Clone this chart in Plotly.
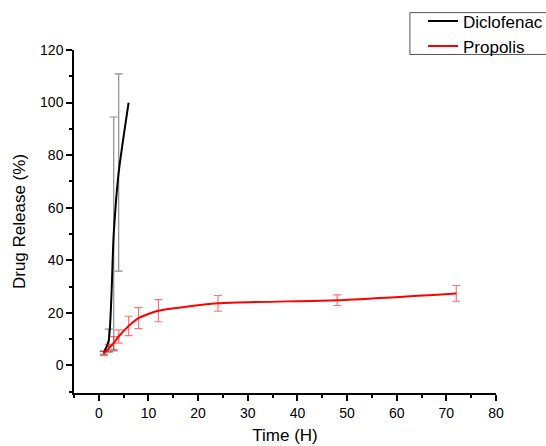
import plotly.graph_objects as go

# Diclofenac series (no error bar measured for the last point)
diclo_time = [1, 2, 3, 4, 6]
diclo_release = [4.8, 9.5, 50.0, 73.4, 100.0]
diclo_err = [0.6, 4.3, 44.5, 37.5]

# Propolis series
prop_time = [1, 2, 3, 4, 6, 8, 12, 24, 48, 72]
prop_release = [4.5, 6.5, 8.5, 11.0, 15.0, 18.0, 20.8, 23.6, 24.8, 27.4]
prop_err = [0.8, 1.5, 2.5, 2.5, 3.7, 4.0, 4.2, 3.0, 2.0, 3.0]

x_ticks = [0, 10, 20, 30, 40, 50, 60, 70, 80]
y_ticks = [0, 20, 40, 60, 80, 100, 120]

FONT = "Liberation Sans, Arial, sans-serif"

n_err = len(diclo_err)

fig = go.Figure()
fig.add_trace(go.Scatter(
    x=diclo_time[:n_err], y=diclo_release[:n_err], mode="markers",
    marker=dict(size=0.1, opacity=0), showlegend=False, hoverinfo="skip",
    error_y=dict(type="data", array=diclo_err, visible=True,
                 color="rgba(0,0,0,0.45)", thickness=1.2, width=4),
))
fig.add_trace(go.Scatter(
    x=diclo_time, y=diclo_release, mode="lines", name="Diclofenac",
    line=dict(color="black", width=2, shape="spline", smoothing=0.6),
))
fig.add_trace(go.Scatter(
    x=prop_time, y=prop_release, mode="lines", name="Propolis",
    line=dict(color="red", width=2, shape="spline", smoothing=0.6),
    error_y=dict(type="data", array=prop_err, visible=True,
                 color="rgba(255,0,0,0.55)", thickness=1.2, width=4),
))

# legend frame (paper coords)
fig.add_shape(type="rect", xref="paper", yref="paper",
              x0=0.796, x1=1.25, y0=0.987, y1=1.109,
              line=dict(color="#555", width=1), fillcolor="rgba(0,0,0,0)")

fig.update_layout(
    width=546, height=446,
    paper_bgcolor="white", plot_bgcolor="white",
    margin=dict(l=74, r=50, t=50, b=53, autoexpand=False),
    font=dict(family=FONT, color="black"),
    showlegend=True,
    legend=dict(
        x=0.827, y=1.136, xanchor="left", yanchor="top",
        borderwidth=0, bgcolor="rgba(0,0,0,0)",
        font=dict(size=17, family=FONT), tracegroupgap=0,
        itemwidth=30,
    ),
    xaxis=dict(
        range=[-5, 80], tickvals=x_ticks, ticktext=[str(v) for v in x_ticks],
        showline=True, linecolor="black", linewidth=1.5,
        ticks="outside", ticklen=6, tickwidth=1.5, tickcolor="black",
        minor=dict(dtick=5, tick0=-5, ticks="outside", ticklen=3, tickwidth=1.5, tickcolor="black"),
        showgrid=False, zeroline=False,
        tickfont=dict(size=14, family=FONT),
        title=dict(text="Time (H)", font=dict(size=17, family=FONT), standoff=10),
        automargin=False,
    ),
    yaxis=dict(
        range=[-10.5, 120], tickvals=y_ticks, ticktext=[str(v) for v in y_ticks],
        showline=True, linecolor="black", linewidth=1.5,
        ticks="outside", ticklen=6, tickwidth=1.5, tickcolor="black",
        minor=dict(dtick=10, tick0=0, ticks="outside", ticklen=3, tickwidth=1.5, tickcolor="black"),
        showgrid=False, zeroline=False,
        tickfont=dict(size=14, family=FONT),
        title=dict(text="Drug Release (%)", font=dict(size=17, family=FONT), standoff=10),
        automargin=False,
    ),
)

fig.write_html("out.html", config={"displayModeBar": False},
               post_script="document.body.style.margin='0';")
